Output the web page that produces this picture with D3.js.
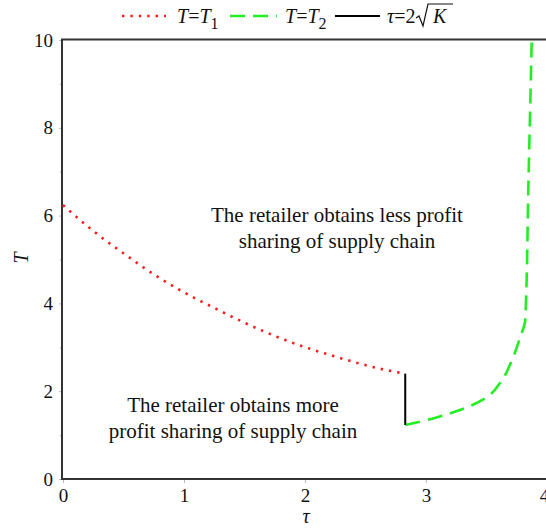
<!DOCTYPE html>
<html><head><meta charset="utf-8">
<script src="https://cdn.jsdelivr.net/npm/d3@7"></script>
<style>body{margin:0;background:#fff}svg{display:block}</style>
</head><body><svg id="c" width="546" height="531"></svg>
<script>
// Data
const xTicks = [0, 1, 2, 3, 4];
const yTicks = [0, 2, 4, 6, 8, 10];
const yMinor = [1, 3, 5, 7, 9];
const tauLine = 2 * Math.sqrt(2); // tau = 2*sqrt(K), K = 2
const T1 = [[0,6.24],[0.25,5.65],[0.51,5.12],[0.78,4.61],[1.055,4.17],[1.27,3.87],[1.5,3.56],[1.87,3.13],[2.25,2.79],[2.64,2.50],[2.828,2.40]];
const T2 = [[2.828,1.23],[3.06,1.38],[3.28,1.57],[3.49,1.84],[3.61,2.18],[3.71,2.71],[3.78,3.24],[3.82,3.62],[3.847,6.8],[3.874,10]];
const K_line = [[tauLine,1.23],[tauLine,2.40]];
const labels = {
  upper: ["The retailer obtains less profit", "sharing of supply chain"],
  lower: ["The retailer obtains more", "profit sharing of supply chain"]
};
const SERIF = '"Liberation Serif"';
const INK = "#111";

const svg = d3.select("#c");
const x = d3.scaleLinear().domain([0,4]).range([63,547]);
const y = d3.scaleLinear().domain([0,10]).range([479,40]);

// axes ticks
const gx = svg.append("g").attr("transform","translate(0,479)")
  .call(d3.axisBottom(x).tickValues(xTicks).tickSize(4).tickPadding(6).tickFormat(d3.format("d")));
const gy = svg.append("g").attr("transform","translate(63,0)")
  .call(d3.axisLeft(y).tickValues(yTicks).tickSize(4).tickPadding(6).tickFormat(d3.format("d")));
svg.append("g").attr("transform","translate(63,0)")
  .call(d3.axisLeft(y).tickValues(yMinor).tickSize(3).tickFormat(""));
svg.selectAll(".tick line").attr("stroke","#bbb");
svg.selectAll(".domain").remove();
svg.selectAll(".tick text").attr("font-size",19).style("font-family",SERIF).attr("fill",INK);
gx.selectAll(".tick text").filter(d=>d===4).attr("dx",-3);

// frame
svg.append("rect").attr("x",62).attr("y",39.5).attr("width",490).attr("height",439.5)
  .attr("fill","none").attr("stroke","#333").attr("stroke-width",2);

const line = d3.line().x(d=>x(d[0])).y(d=>y(d[1]));
svg.append("path").datum(T1).attr("d",line.curve(d3.curveMonotoneX)).attr("fill","none")
  .attr("stroke","#ff1a1a").attr("stroke-width",2.6).attr("stroke-dasharray","2.4,6");
svg.append("path").datum(T2).attr("d",d3.line().x(d=>x(d[0])).y(d=>y(d[1])).curve(d3.curveMonotoneY)).attr("fill","none")
  .attr("stroke","#22ee22").attr("stroke-width",2.6).attr("stroke-dasharray","15,8");
svg.append("path").datum(K_line).attr("d",d3.line().x(d=>x(d[0])).y(d=>y(d[1]))).attr("fill","none")
  .attr("stroke","#000").attr("stroke-width",2);

// annotations
function txt(sel, xx, yy, s, size, italic){
  return sel.append("text").attr("x",xx).attr("y",yy).attr("font-size",size)
    .style("font-family",SERIF).attr("fill",INK)
    .attr("font-style", italic ? "italic" : "normal").text(s);
}
const ann = svg.append("g").attr("text-anchor","middle");
txt(ann,337,222,labels.upper[0],21);
txt(ann,337,248,labels.upper[1],21);
txt(ann,233,412,labels.lower[0],21);
txt(ann,233,438,labels.lower[1],21);

// axis labels
txt(svg,306,523,"τ",20,true).attr("text-anchor","middle");
svg.append("text").attr("transform","translate(28,258) rotate(-90)").attr("text-anchor","middle")
  .attr("font-size",20).attr("font-style","italic").style("font-family",SERIF).attr("fill",INK).text("T");

// legend
const lg = svg.append("g");
const ly = 16;
function legText(xx, parts){
  const t = lg.append("text").attr("x",xx).attr("y",23).attr("font-size",20).style("font-family",SERIF).attr("fill",INK);
  parts.forEach(p=>{
    const ts = t.append("tspan").text(p.s);
    if(p.i) ts.attr("font-style","italic");
    if(p.sub) ts.attr("dy",6).attr("font-size",16);
  });
  return t;
}
lg.append("line").attr("x1",122).attr("x2",166).attr("y1",ly).attr("y2",ly).attr("stroke","#ff1a1a").attr("stroke-width",2.6).attr("stroke-dasharray","2.4,6");
legText(177,[{s:"T",i:1},{s:"="},{s:"T",i:1},{s:"1",sub:1}]);
lg.append("line").attr("x1",230).attr("x2",277).attr("y1",ly).attr("y2",ly).attr("stroke","#22ee22").attr("stroke-width",2.6).attr("stroke-dasharray","15,8");
legText(285,[{s:"T",i:1},{s:"="},{s:"T",i:1},{s:"2",sub:1}]);
lg.append("line").attr("x1",335).attr("x2",380).attr("y1",ly).attr("y2",ly).attr("stroke","#000").attr("stroke-width",2);
legText(387,[{s:"τ",i:1},{s:"=2"}]);
// radical
lg.append("path").attr("d","M416,18 L419,16 L423,26 L428,4 L453,4").attr("fill","none").attr("stroke",INK).attr("stroke-width",1.2);
lg.append("text").attr("x",433).attr("y",23).attr("font-size",20).attr("font-style","italic").style("font-family",SERIF).attr("fill",INK).text("K");
</script></body></html>
